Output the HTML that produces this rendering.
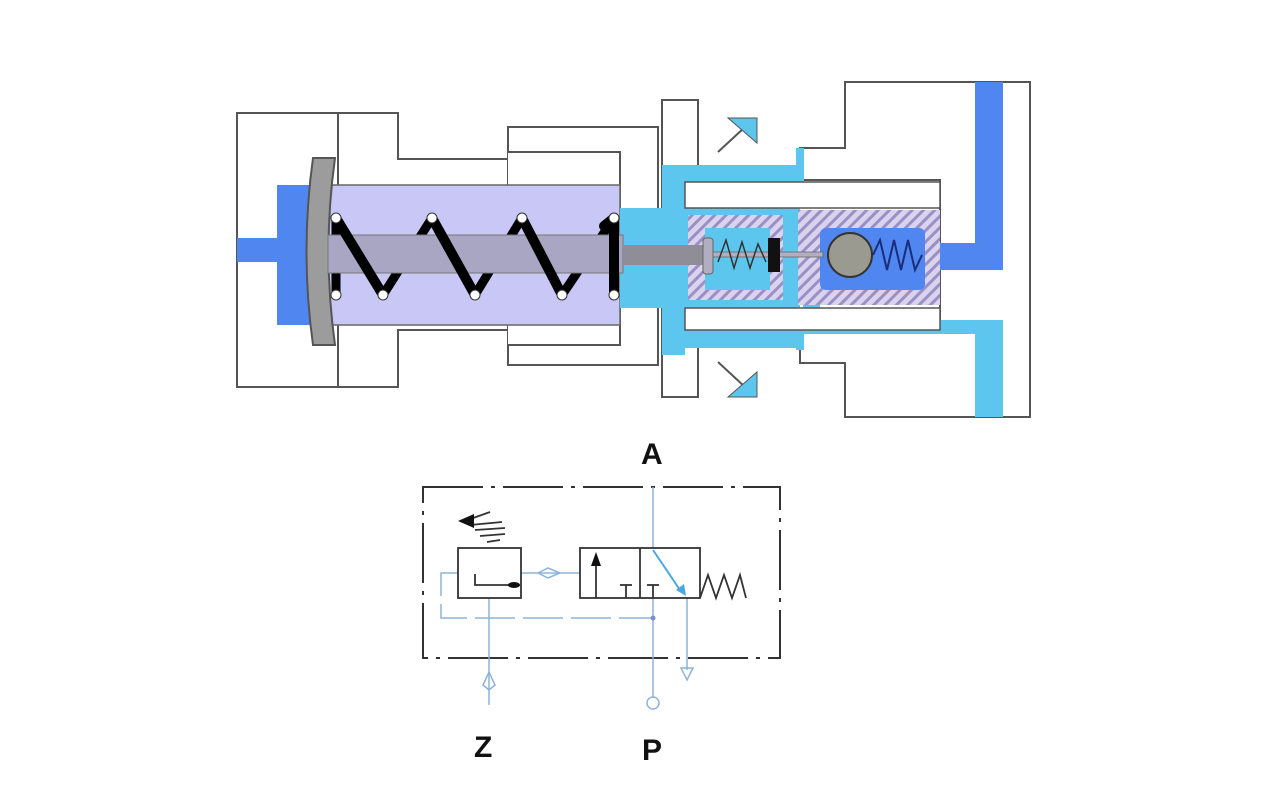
<!DOCTYPE html>
<html><head><meta charset="utf-8"><style>
html,body{margin:0;padding:0;background:#fff;}
svg{display:block;}
text{font-family:"Liberation Sans",sans-serif;font-weight:bold;font-size:30px;fill:#111;}
</style></head><body>
<svg width="1280" height="800" viewBox="0 0 1280 800" xmlns="http://www.w3.org/2000/svg">
<defs>
<pattern id="h" width="8" height="8" patternUnits="userSpaceOnUse" patternTransform="rotate(45)">
<rect width="8" height="8" fill="#d9d4ee"/><rect width="3" height="8" fill="#9c8fc6"/>
</pattern>
</defs>
<g stroke="#555" stroke-width="2" fill="#fff">
<rect x="237" y="113" width="101" height="274"/>
<path d="M338 113 H398 V159 H510 V330 H398 V387 H338 Z"/>
<path d="M508 127 H658 V365 H508 Z"/>
<path d="M508 152 H620 V345 H508"/>
<rect x="662" y="100" width="36" height="297"/>
<path d="M845 82 H1030 V417 H845 V363 H800 V330 H940 V180 H800 V148 H845 Z"/>
</g>
<rect x="237" y="238" width="45" height="24" fill="#4f86ef"/>
<rect x="277" y="185" width="40" height="140" fill="#4f86ef"/>
<rect x="320" y="185" width="300" height="140" fill="#c9c7f6" stroke="#666" stroke-width="1.5"/>
<path d="M313 158 H335 Q322 251 335 345 H313 Q300 251 313 158 Z" fill="#9c9c9c" stroke="#555" stroke-width="2"/>
<g fill="#5cc6ee">
<rect x="620" y="208" width="180" height="100"/>
<rect x="662" y="165" width="23" height="190"/>
<rect x="662" y="165" width="138" height="17"/>
<rect x="662" y="330" width="138" height="18"/>
<rect x="796" y="148" width="8" height="34"/>
<rect x="796" y="330" width="8" height="20"/>
<rect x="803" y="290" width="17" height="43"/>
<rect x="803" y="320" width="200" height="14"/>
<rect x="975" y="320" width="28" height="97"/>
</g>
<rect x="685" y="182" width="255" height="26" fill="#fff" stroke="#555" stroke-width="1.5"/>
<rect x="685" y="308" width="255" height="22" fill="#fff" stroke="#555" stroke-width="1.5"/>
<rect x="975" y="82" width="28" height="188" fill="#4f86ef"/>
<rect x="925" y="243" width="78" height="27" fill="#4f86ef"/>
<rect x="688" y="215" width="95" height="85" fill="url(#h)"/>
<rect x="705" y="228" width="65" height="62" fill="#5cc6ee"/>
<rect x="798" y="210" width="142" height="95" fill="url(#h)"/>
<rect x="820" y="228" width="105" height="62" rx="6" fill="#4f86ef"/>
<!-- spring back strokes (behind rod) -->
<polyline points="336,218 336,295 M383,295" fill="none" stroke="#000" stroke-width="9"/>
<g stroke="#000" stroke-width="9" stroke-linecap="round">
<line x1="383" y1="295" x2="432" y2="218"/><line x1="475" y1="295" x2="522" y2="218"/><line x1="562" y1="295" x2="614" y2="218"/>
<line x1="336" y1="218" x2="336" y2="295"/>
</g>
<rect x="328" y="235" width="295" height="38" fill="#a8a6c2" stroke="#777" stroke-width="1"/>
<rect x="623" y="245" width="82" height="20" fill="#8f8d98"/>
<rect x="703" y="238" width="10" height="36" rx="3" fill="#b0aec0" stroke="#666"/>
<rect x="713" y="252" width="110" height="5" fill="#b0aec0" stroke="#666" stroke-width="0.8"/>
<rect x="768" y="238" width="12" height="34" fill="#111"/>
<polyline points="718,262 726,240 734,268 742,242 750,268 758,244 766,262" fill="none" stroke="#333" stroke-width="1.5"/>
<circle cx="850" cy="255" r="22" fill="#9b9a90" stroke="#333" stroke-width="2"/>
<polyline points="873,255 880,240 887,270 894,240 901,270 908,240 915,270 922,255" fill="none" stroke="#1a2c7a" stroke-width="2"/>
<!-- spring front diagonals -->
<g stroke="#000" stroke-width="10" stroke-linecap="round">
<line x1="336" y1="218" x2="383" y2="295"/><line x1="432" y1="218" x2="475" y2="295"/><line x1="522" y1="218" x2="562" y2="295"/>
<line x1="614" y1="218" x2="614" y2="295"/><line x1="604" y1="226" x2="614" y2="218"/>
</g>
<g fill="#fff" stroke="#333" stroke-width="1">
<circle cx="336" cy="218" r="5"/><circle cx="432" cy="218" r="5"/><circle cx="522" cy="218" r="5"/><circle cx="614" cy="218" r="5"/>
<circle cx="336" cy="295" r="5"/><circle cx="383" cy="295" r="5"/><circle cx="475" cy="295" r="5"/><circle cx="562" cy="295" r="5"/><circle cx="614" cy="295" r="5"/>
</g>
<line x1="718" y1="152" x2="745" y2="127" stroke="#555" stroke-width="2"/>
<polygon points="728,118 757,118 757,143" fill="#5cc6ee" stroke="#555" stroke-width="1"/>
<line x1="718" y1="362" x2="745" y2="387" stroke="#555" stroke-width="2"/>
<polygon points="728,397 757,397 757,372" fill="#5cc6ee" stroke="#555" stroke-width="1"/>
<text x="641" y="464">A</text>
<text x="474" y="757">Z</text>
<text x="642" y="760">P</text>
<rect x="423" y="487" width="357" height="171" fill="none" stroke="#333" stroke-width="2" stroke-dasharray="60,8,4,8"/>
<g fill="none" stroke="#8fb3da" stroke-width="1.5">
<line x1="653" y1="487" x2="653" y2="548"/>
<line x1="653" y1="598" x2="653" y2="697"/>
<polyline points="458,573 441,573 441,618 653,618" stroke-dasharray="40,8"/>
<line x1="489" y1="598" x2="489" y2="705"/>
<line x1="521" y1="573" x2="580" y2="573"/>
<line x1="687" y1="598" x2="687" y2="670"/>
<polygon points="483,685 489,672 495,685 489,690"/>
<polygon points="681,668 693,668 687,680"/>
<circle cx="653" cy="703" r="6"/>
<polygon points="538,573 548,568 560,573 548,578"/>
</g>
<circle cx="653" cy="618" r="2.5" fill="#7a8fd0"/>
<g fill="none" stroke="#333" stroke-width="1.8">
<rect x="458" y="548" width="63" height="50"/>
<rect x="580" y="548" width="120" height="50"/>
<line x1="640" y1="548" x2="640" y2="598"/>
<line x1="596" y1="598" x2="596" y2="560"/>
<line x1="626" y1="598" x2="626" y2="585"/><line x1="620" y1="585" x2="632" y2="585"/>
<line x1="653" y1="598" x2="653" y2="585"/><line x1="647" y1="585" x2="659" y2="585"/>
<polyline points="700,598 708,575 716,598 724,575 732,598 740,575 746,598"/>
<polyline points="475,574 475,585 512,585"/>
<path d="M462 522 L490 512 M470 525 L502 522 M475 530 L505 528 M480 536 L505 534 M487 542 L500 540"/>
</g>
<polygon points="596,552 591,566 601,566" fill="#111"/>
<polygon points="458,521 474,514 474,528" fill="#111"/>
<ellipse cx="514" cy="585" rx="6" ry="3" fill="#111"/>
<line x1="653" y1="550" x2="680" y2="590" stroke="#4aa8e0" stroke-width="2"/>
<polygon points="676,590 686,596 684,584" fill="#4aa8e0"/>
</svg>
</body></html>
